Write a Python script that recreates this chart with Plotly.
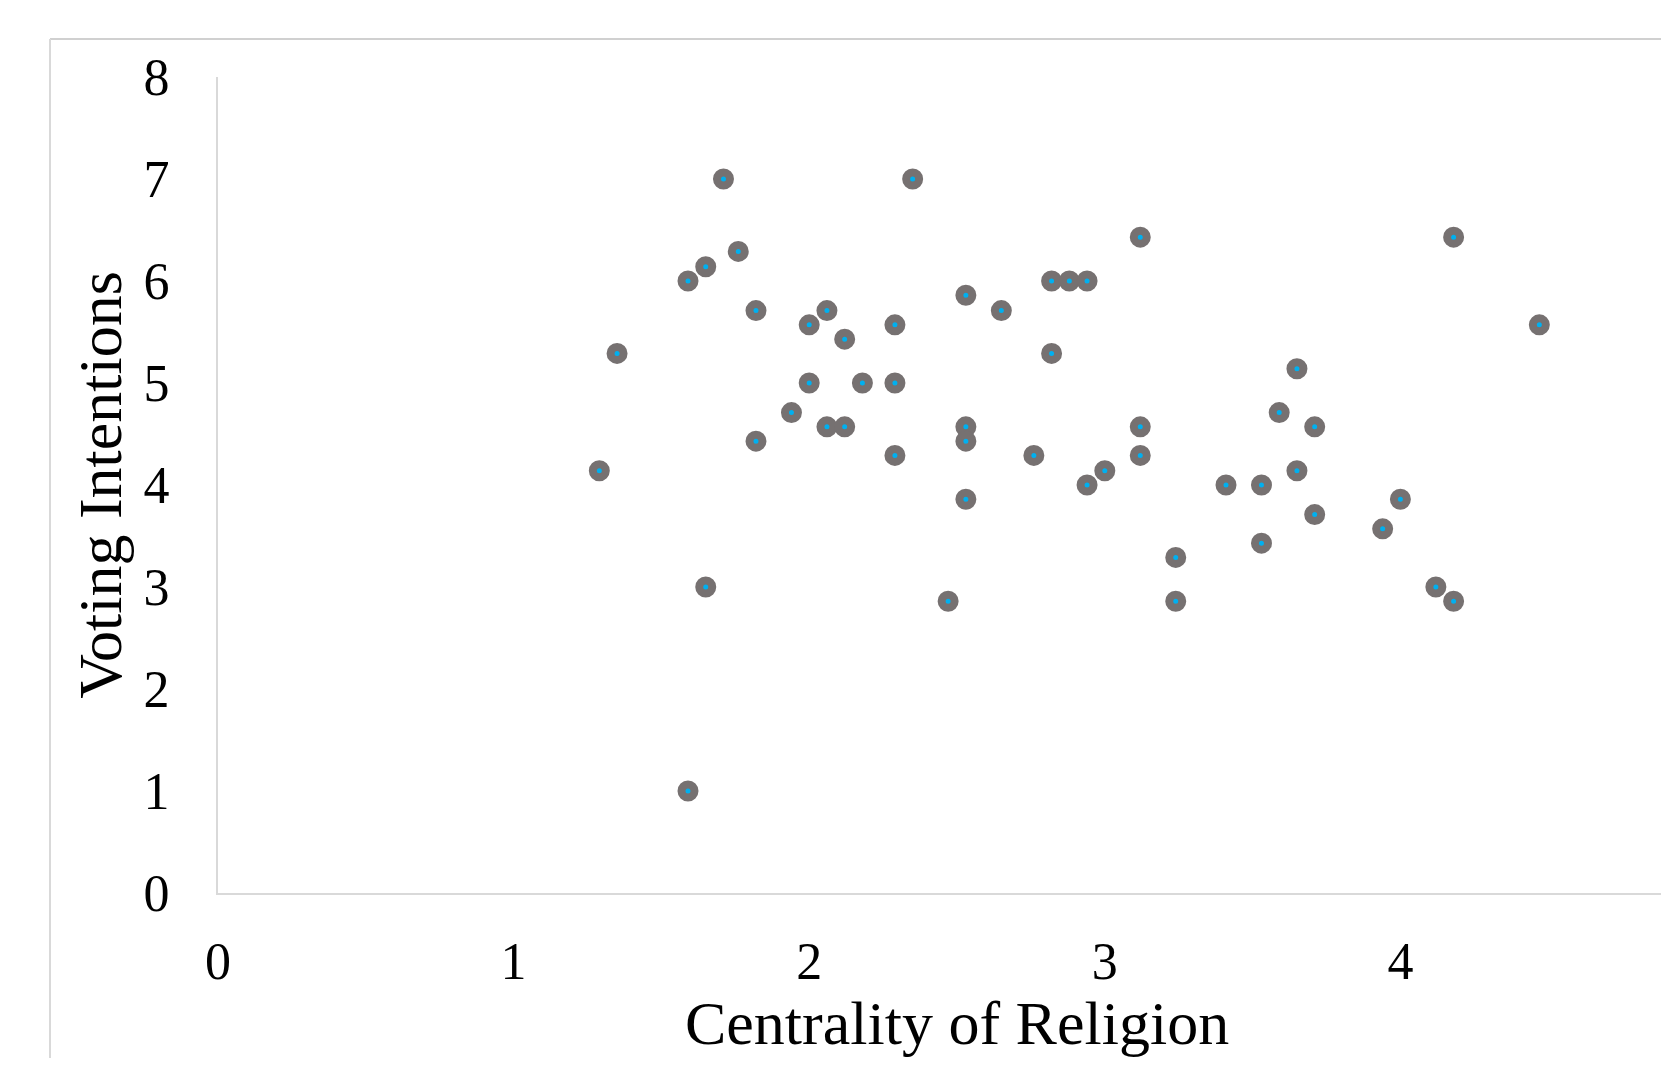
import plotly.graph_objects as go

centrality = [1.71, 2.35, 3.12, 4.18, 1.76, 1.65, 1.59, 2.82, 2.88, 2.94,
              2.53, 1.82, 2.06, 2.65, 2.00, 2.29, 4.47, 2.12, 1.35, 2.82,
              3.65, 2.00, 2.18, 2.29, 1.94, 3.59, 2.06, 2.12, 2.53, 3.12,
              3.71, 1.82, 2.53, 2.29, 2.76, 3.12, 1.29, 3.00, 3.65, 2.94,
              3.41, 3.53, 2.53, 4.00, 3.71, 3.94, 3.53, 3.24, 1.65, 4.12,
              2.47, 3.24, 4.18, 1.59]
voting = [7.00, 7.00, 6.43, 6.43, 6.29, 6.14, 6.00, 6.00, 6.00, 6.00,
          5.86, 5.71, 5.71, 5.71, 5.57, 5.57, 5.57, 5.43, 5.29, 5.29,
          5.14, 5.00, 5.00, 5.00, 4.71, 4.71, 4.57, 4.57, 4.57, 4.57,
          4.57, 4.43, 4.43, 4.29, 4.29, 4.29, 4.14, 4.14, 4.14, 4.00,
          4.00, 4.00, 3.86, 3.86, 3.71, 3.57, 3.43, 3.29, 3.00, 3.00,
          2.86, 2.86, 2.86, 1.00]
x_ticks = [0, 1, 2, 3, 4]
y_ticks = [0, 1, 2, 3, 4, 5, 6, 7, 8]
x_title = "Centrality of Religion"
y_title = "Voting Intentions"

OFF = 8  # default body margin of the html page
W, H = 1669 - 2 * OFF, 1066 - 2 * OFF
L, T = 218 - OFF, 77 - OFF
R = 0
B_PIX = 893.3 - OFF
plot_w = W - L - R
plot_h = B_PIX - T
PX_PER_X = 295.6

fig = go.Figure(go.Scatter(
    x=centrality, y=voting, mode="markers",
    marker=dict(size=13, color="#00B0F0",
                line=dict(color="#767171", width=8)),
    showlegend=False, hoverinfo="x+y"))

font_family = "Liberation Serif, Times New Roman, serif"

# outer chart-area border (top and left edges visible)
bx = (50 - OFF - L) / plot_w
by = (B_PIX - (39 - OFF)) / plot_h
fig.add_shape(type="line", xref="paper", yref="paper",
              x0=bx, y0=by, x1=1.0, y1=by,
              line=dict(color="#D0D0D0", width=2))
fig.add_shape(type="line", xref="paper", yref="paper",
              x0=bx, y0=by, x1=bx, y1=-0.4,
              line=dict(color="#D9D9D9", width=2))

# x-axis title, centred on the full 0-5 axis of the original chart
fig.add_annotation(text=x_title, xref="x", x=2.5, yref="paper", y=0,
                   xanchor="center", yanchor="top", yshift=-94,
                   showarrow=False,
                   font=dict(size=62, family=font_family, color="black"))

fig.update_layout(
    width=W, height=H,
    margin=dict(l=L, r=R, t=T, b=H - B_PIX),
    paper_bgcolor="white", plot_bgcolor="white",
    font=dict(family=font_family, color="black"),
    xaxis=dict(range=[0, plot_w / PX_PER_X], tickvals=x_ticks,
               showgrid=False, zeroline=False, showline=True,
               linecolor="#D9D9D9", linewidth=2, ticks="",
               tickfont=dict(size=52, family=font_family),
               ticklabelstandoff=22),
    yaxis=dict(range=[0, 8], tickvals=y_ticks,
               showgrid=False, zeroline=False, showline=True,
               linecolor="#D9D9D9", linewidth=2, ticks="",
               tickfont=dict(size=52, family=font_family),
               ticklabelstandoff=36,
               title=dict(text=y_title,
                          font=dict(size=62, family=font_family),
                          standoff=2)),
)

fig.write_html("out.html", config={"displayModeBar": False})
